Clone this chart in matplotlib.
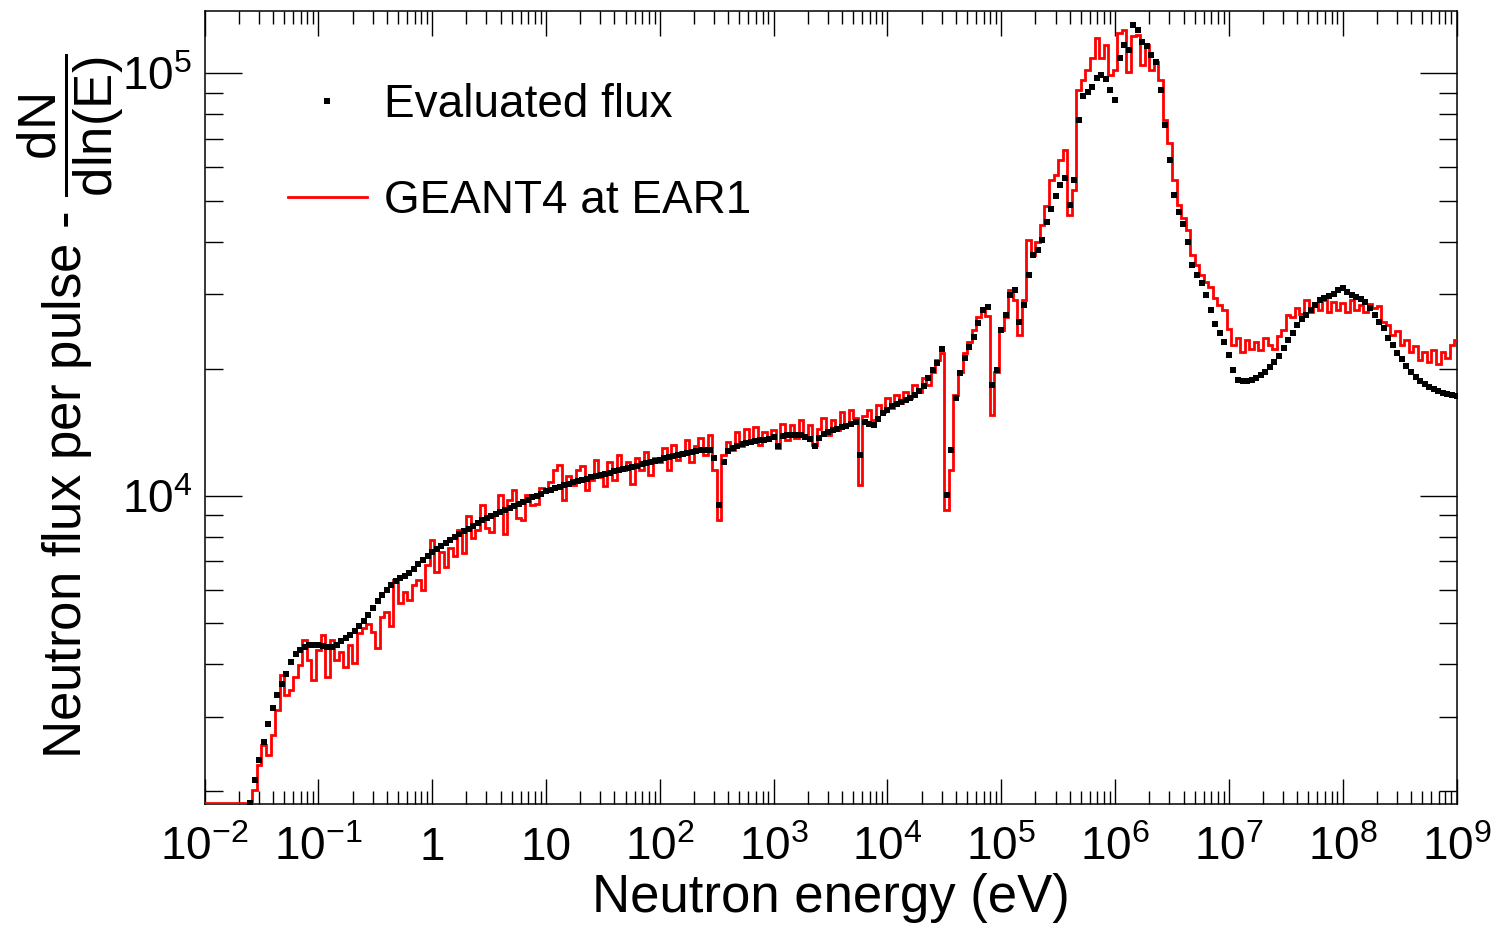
import numpy as np
import matplotlib

matplotlib.use("Agg")
import matplotlib.pyplot as plt
from matplotlib.ticker import FixedLocator, LogLocator, NullFormatter

plt.rcParams["font.family"] = ["Liberation Sans", "DejaVu Sans"]
plt.rcParams["mathtext.fontset"] = "custom"
plt.rcParams["mathtext.rm"] = "Liberation Sans"
plt.rcParams["mathtext.it"] = "Liberation Sans:italic"
plt.rcParams["mathtext.bf"] = "Liberation Sans:bold"

# ---- binning: log10(E) grid, 25 bins per decade ----
LOG_STEP = 0.04
GEANT4_LOG_START = -2.0
EVAL_LOG_START = -1.6

# GEANT4 simulation at EAR1 (red histogram), dN/dln(E) per pulse
GEANT4_FLUX = [
    1880, 1880, 1880, 1880, 1880, 1880, 1880, 1880, 1880, 1880,
    1880, 2016, 2310, 2576, 2439, 2720, 3117, 3771, 3382, 3475, 3730, 3983, 4563, 4093, 3670,
    4321, 4689, 3730, 4563, 4093, 4275, 3940, 4441, 4020, 4740, 4870, 4980, 4765, 4370, 5170,
    5320, 4925, 6328, 5580, 5930, 5675, 6158, 6328, 5993, 6868,
    7870, 6610, 7375, 6790, 7535, 7210, 8310, 7330, 8965, 7950, 8310, 9522, 8400, 8220, 9165,
    10050, 8130, 9784, 10330, 8870, 8774, 10050, 9522, 9575, 10440,
    10330, 10790, 11520, 11840, 9784, 11150, 10620, 11520, 11780, 10330, 10910, 12170, 11090,
    10560, 12040, 10910, 12500, 11520, 12040, 10680, 12300, 11520, 12710, 11210, 12300,
    12040, 12990, 11520, 13200, 12170, 12710, 13570, 12040, 13130, 13720, 12500, 13940, 11520,
    8774, 12500, 13400, 12850, 14170, 13130, 14410, 13570, 14560, 13200, 14170, 13720,
    14330, 12990, 14800, 13570, 14720, 13720, 15130, 13860, 14720, 13200, 14410, 15300, 13940,
    15130, 14330, 15800, 14720, 15980, 15300, 10620, 15460, 15980, 15130, 16420, 15800,
    17050, 16150, 17340, 16600, 17630, 17050, 18310, 17630, 19020, 18310, 19650, 20980, 21800,
    9267, 11520, 17340, 19650, 21800, 23130, 24700, 26450, 27540, 26650, 15550, 19650,
    24700, 26450, 30710, 29090, 24040, 29090, 40330, 37160, 39900, 43770, 48550, 55930, 57470,
    62370, 65850, 46220, 52960, 91310, 96410, 101800, 108500, 121200, 108500, 116700, 99080,
    101800, 124500, 126600, 100700, 122500, 123200, 104600, 116700, 101800, 106300, 96410,
    77540, 68390, 55930, 48810, 45470, 42590, 37160, 35190, 33330, 32050, 31220, 29410, 28300, 27540,
    24840, 22760, 23650, 21930, 23390, 22270, 23130, 22150, 23650, 22760, 22270, 23910, 24700,
    26800, 26450, 27840, 26950, 29090, 27240, 28620, 27540, 29090, 27240, 28790, 27540,
    28620, 27240, 29090, 27540, 28300, 27240, 28460, 27840, 28140, 25800, 25380, 24040, 24530,
    22760, 23390, 21930, 22640, 20980, 21930, 20750, 22150, 20530, 21930, 21210, 22760, 23390,
]

# Evaluated flux (black points)
EVAL_FLUX = [
    1880, 2129, 2374, 2620, 2890, 3150, 3382, 3590, 3800, 4050, 4230, 4321, 4390, 4441, 4441,
    4441, 4420, 4395, 4395, 4441, 4540, 4610, 4689, 4790, 4925, 5060, 5229, 5430, 5640, 5831,
    5993, 6158, 6290, 6400, 6470, 6575, 6720, 6900, 7057, 7210,
    7375, 7495, 7615, 7740, 7870, 8000, 8130, 8265, 8355, 8490, 8630, 8774, 8870, 8965, 9065,
    9165, 9267, 9370, 9470, 9575, 9680, 9784, 9945, 10000, 10110,
    10270, 10330, 10440, 10500, 10620, 10680, 10790, 10850, 10910, 10970, 11090, 11150, 11210,
    11270, 11330, 11460, 11520, 11580, 11650, 11710, 11780, 11900, 11970, 12040, 12100,
    12170, 12300, 12370, 12430, 12500, 12570, 12640, 12710, 12780, 12850, 12850, 12850, 12300,
    9522, 12040, 12780, 13000, 13130, 13270, 13340, 13400, 13470, 13570, 13570, 13640,
    13790, 13130, 13860, 13940, 13940, 13940, 13940, 13790, 13640, 13130, 13710, 14000, 14150,
    14330, 14400, 14540, 14610, 14770, 14940, 12500, 14940, 14770, 14720, 15210, 15700,
    15980, 16330, 16510, 16690, 16870, 17050, 17340, 17720, 18210, 19020, 19870, 20630, 22270,
    10050, 12850, 17050, 19550, 21210, 22510, 23780, 25660, 27540, 27950, 18310, 19870,
    24700, 26800, 29890, 30710, 25800, 28300, 33330, 37160, 38190, 40330, 44480, 47760, 51260,
    54420, 56530, 48810, 55930, 77540, 88350, 90300, 92800, 97500, 99080, 96950, 91310,
    86480, 108500, 116700, 113500, 130100, 126600, 118600, 116000, 110500, 106300, 91310,
    75460, 62370, 51540, 46990, 44010, 39900, 35190, 33330, 31900, 29890, 27540, 25520, 24300, 23130,
    21560, 19870, 18810, 18700, 18700, 18810, 19020, 19330, 19650, 20180, 20750, 21440, 22390,
    23390, 24300, 25380, 26230, 26800, 27540, 28300, 29090, 29410, 29730, 30050, 30710,
    31080, 30380, 29890, 29570, 29250, 28790, 27840, 26800, 25800, 24970, 23650, 22760, 21800,
    21090, 20300, 19650, 19120, 18700, 18410, 18100, 17920, 17720, 17530, 17440, 17340, 17250,
]

X_MAJOR = [1e-2, 1e-1, 1, 10, 1e2, 1e3, 1e4, 1e5, 1e6, 1e7, 1e8, 1e9]
X_LABELS = [r"$10^{-2}$", r"$10^{-1}$", "1", "10", r"$10^{2}$", r"$10^{3}$", r"$10^{4}$",
            r"$10^{5}$", r"$10^{6}$", r"$10^{7}$", r"$10^{8}$", r"$10^{9}$"]
Y_MAJOR = [1e4, 1e5]
Y_LABELS = [r"$10^{4}$", r"$10^{5}$"]

RED = "#ff0000"

fig = plt.figure(figsize=(14.92, 9.25), dpi=100)
ax = fig.add_axes([0.13707, 0.13081, 0.83914, 0.85697])

# red histogram: bin edges around the log grid centres
n_red = len(GEANT4_FLUX)
red_edges = 10 ** (GEANT4_LOG_START - LOG_STEP / 2 + LOG_STEP * np.arange(n_red + 1))
ax.stairs(GEANT4_FLUX, red_edges, color=RED, linewidth=2.0, label="GEANT4 at EAR1", zorder=2.6)

eval_e = 10 ** (EVAL_LOG_START + LOG_STEP * np.arange(len(EVAL_FLUX)))
ax.plot(eval_e, EVAL_FLUX, linestyle="none", marker="s", markersize=3.9,
        markeredgewidth=0, color="black", label="Evaluated flux", zorder=3)

ax.set_xscale("log")
ax.set_yscale("log")
ax.set_xlim(1e-2, 1e9)
ax.set_ylim(1868, 1.402e5)

ax.xaxis.set_major_locator(FixedLocator(X_MAJOR))
ax.set_xticklabels(X_LABELS)
ax.xaxis.set_minor_locator(LogLocator(base=10, subs=np.arange(2, 10), numticks=30))
ax.xaxis.set_minor_formatter(NullFormatter())
ax.yaxis.set_major_locator(FixedLocator(Y_MAJOR))
ax.set_yticklabels(Y_LABELS)
ax.yaxis.set_minor_locator(LogLocator(base=10, subs=np.arange(2, 10), numticks=30))
ax.yaxis.set_minor_formatter(NullFormatter())

ax.tick_params(axis="both", which="both", direction="in", top=True, right=True,
               width=1.0, labelsize=33)
ax.tick_params(axis="x", which="major", length=18, pad=16)
ax.tick_params(axis="x", which="minor", length=9.4)
ax.tick_params(axis="y", which="major", length=26.6, pad=9)
ax.tick_params(axis="y", which="minor", length=13)
for spine in ax.spines.values():
    spine.set_linewidth(1.1)

fig.text(0.5566, 0.0141, "Neutron energy (eV)", ha="center", va="baseline", fontsize=38)
fig.text(0.0476, 0.5611, r"Neutron flux per pulse - $\dfrac{\mathrm{dN}}{\mathrm{dln(E)}}$",
         rotation=90, ha="center", va="center", fontsize=38)

handles, labels = ax.get_legend_handles_labels()
leg = ax.legend(handles[::-1], labels[::-1], loc="upper left", bbox_to_anchor=(0.0667, 0.910),
                frameon=False, fontsize=33, handlelength=1.72, handletextpad=0.37,
                labelspacing=1.15, borderpad=0, borderaxespad=0, markerscale=1.0)

fig.savefig("out.png", dpi=100)
